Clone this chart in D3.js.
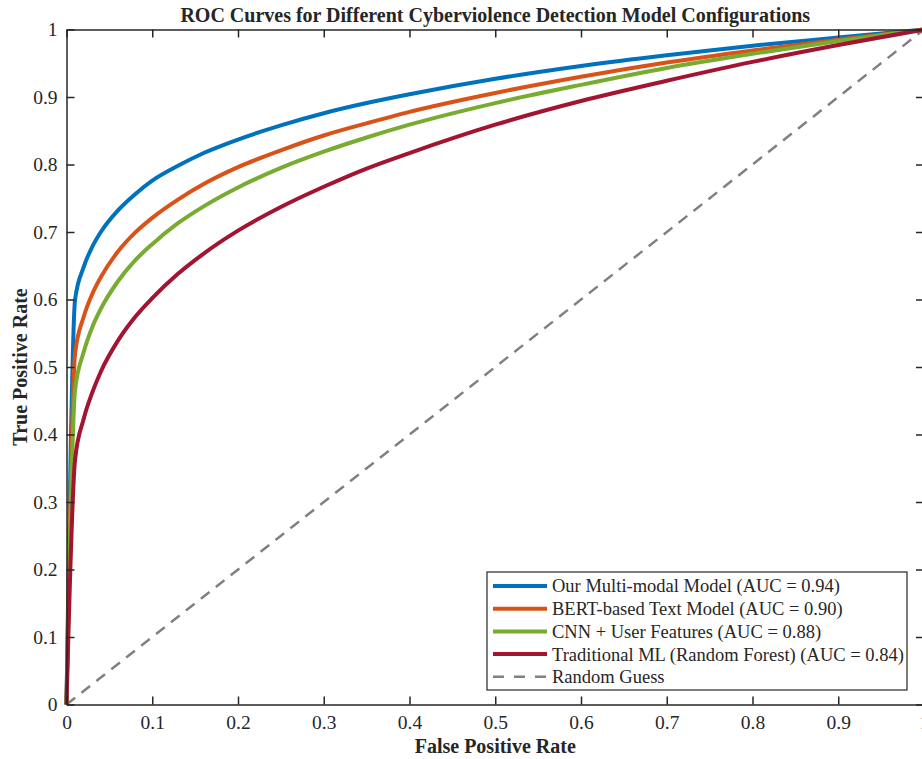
<!DOCTYPE html>
<html lang="en">
<head>
  <meta charset="utf-8">
  <title>ROC Curves</title>
  <script src="https://d3js.org/d3.v7.min.js"></script>
  <style>
    body { margin: 0; background: #fff; }
    text { font-family: "Liberation Serif", "Times New Roman", serif; fill: #262626; }
  </style>
</head>
<body>
<script>
// false positive rate sample points
var fpr = [0, 0.01, 0.02, 0.03, 0.04, 0.06, 0.08, 0.10, 0.13, 0.16, 0.20, 0.25,
           0.30, 0.35, 0.40, 0.50, 0.60, 0.70, 0.80, 0.90, 1.00];

// true positive rate of each model
var tprMultiModal = [0, 0.600, 0.648, 0.678, 0.700, 0.732, 0.756, 0.776, 0.798, 0.817, 0.837, 0.858,
                     0.876, 0.891, 0.904, 0.927, 0.946, 0.962, 0.976, 0.988, 1];
var tprBert       = [0, 0.520, 0.574, 0.608, 0.633, 0.671, 0.699, 0.721, 0.748, 0.771, 0.796, 0.821,
                     0.843, 0.861, 0.878, 0.906, 0.930, 0.951, 0.969, 0.985, 1];
var tprCnn        = [0, 0.466, 0.522, 0.559, 0.586, 0.627, 0.658, 0.682, 0.713, 0.738, 0.766, 0.795,
                     0.819, 0.840, 0.859, 0.891, 0.918, 0.943, 0.964, 0.983, 1];
var tprForest     = [0, 0.363, 0.423, 0.462, 0.493, 0.539, 0.574, 0.602, 0.638, 0.668, 0.702, 0.737,
                     0.767, 0.794, 0.817, 0.859, 0.894, 0.924, 0.952, 0.977, 1];

var modelNames = [
  'Our Multi-modal Model (AUC = 0.94)',
  'BERT-based Text Model (AUC = 0.90)',
  'CNN + User Features (AUC = 0.88)',
  'Traditional ML (Random Forest) (AUC = 0.84)'
];
var modelColors = ['#0072BD', '#D95319', '#77AC30', '#A2142F'];
var tickValues = [0, 0.1, 0.2, 0.3, 0.4, 0.5, 0.6, 0.7, 0.8, 0.9, 1];

var W = 922, H = 759;
// plot box (right edge falls just outside the picture, as in the reference)
var pLeft = 66.5, pRight = 924, pTop = 29.5, pBottom = 704.5;

var svg = d3.select('body').append('svg')
  .attr('width', W)
  .attr('height', H);

var x = d3.scaleLinear().domain([0, 1]).range([pLeft, pRight]);
var y = d3.scaleLinear().domain([0, 1]).range([pBottom, pTop]);

var series = [tprMultiModal, tprBert, tprCnn, tprForest].map(function(t, i) {
  return { name: modelNames[i], color: modelColors[i],
           pts: fpr.map(function(f, j) { return [f, t[j]]; }) };
});

var line = d3.line()
  .x(function(d) { return x(d[0]); })
  .y(function(d) { return y(d[1]); })
  .curve(d3.curveMonotoneX);

var straight = d3.line()
  .x(function(d) { return x(d[0]); })
  .y(function(d) { return y(d[1]); });

// random guess diagonal
svg.append('path')
  .attr('d', straight([[0, 0], [1, 1]]))
  .attr('fill', 'none')
  .attr('stroke', '#808080')
  .attr('stroke-width', 2.5)
  .attr('stroke-dasharray', '11,8');

svg.selectAll('.roc')
  .data(series)
  .enter().append('path')
  .attr('class', 'roc')
  .attr('d', function(d) { return line(d.pts); })
  .attr('fill', 'none')
  .attr('stroke', function(d) { return d.color; })
  .attr('stroke-width', 4)
  .attr('stroke-linejoin', 'round');

// axes: ticks inside, box on all sides
var tl = 8;
var xBottom = d3.axisBottom(x).tickValues(tickValues).tickSizeInner(-tl).tickSizeOuter(0)
  .tickPadding(11).tickFormat(d3.format('~g'));
var xTop = d3.axisTop(x).tickValues(tickValues).tickSizeInner(-tl).tickSizeOuter(0).tickFormat('');
var yLeft = d3.axisLeft(y).tickValues(tickValues).tickSizeInner(-tl).tickSizeOuter(0)
  .tickPadding(9).tickFormat(d3.format('~g'));
var yRight = d3.axisRight(y).tickValues(tickValues).tickSizeInner(-tl).tickSizeOuter(0).tickFormat('');

function style(g) {
  g.select('.domain').attr('stroke', '#262626').attr('stroke-width', 1.5);
  g.selectAll('.tick line').attr('stroke', '#262626').attr('stroke-width', 1.5);
  g.selectAll('.tick text').style('font-family', '"Liberation Serif", serif')
    .style('font-size', '19.5px').attr('fill', '#262626');
}

svg.append('g').attr('transform', 'translate(0,' + pBottom + ')').call(xBottom).call(style);
svg.append('g').attr('transform', 'translate(0,' + pTop + ')').call(xTop).call(style);
svg.append('g').attr('transform', 'translate(' + pLeft + ',0)').call(yLeft).call(style);
svg.append('g').attr('transform', 'translate(' + pRight + ',0)').call(yRight).call(style);

// title and labels
svg.append('text')
  .attr('x', (pLeft + pRight) / 2)
  .attr('y', 22)
  .attr('text-anchor', 'middle')
  .style('font-size', '20px')
  .style('font-weight', 'bold')
  .text('ROC Curves for Different Cyberviolence Detection Model Configurations');

svg.append('text')
  .attr('x', (pLeft + pRight) / 2)
  .attr('y', 753)
  .attr('text-anchor', 'middle')
  .style('font-size', '20px')
  .style('font-weight', 'bold')
  .text('False Positive Rate');

svg.append('text')
  .attr('transform', 'translate(27,' + (pTop + pBottom) / 2 + ') rotate(-90)')
  .attr('text-anchor', 'middle')
  .style('font-size', '20px')
  .style('font-weight', 'bold')
  .text('True Positive Rate');

// legend
var legX = 487, legY = 572, legW = 420, legH = 118, rowH = 22.7;
var legend = svg.append('g');
legend.append('rect')
  .attr('x', legX).attr('y', legY)
  .attr('width', legW).attr('height', legH)
  .attr('fill', '#fff')
  .attr('stroke', '#262626')
  .attr('stroke-width', 1.2);

var legItems = series.map(function(s) { return { name: s.name, color: s.color, dash: null }; });
legItems.push({ name: 'Random Guess', color: '#808080', dash: '11,10' });

var rows = legend.selectAll('.leg')
  .data(legItems)
  .enter().append('g')
  .attr('transform', function(d, i) { return 'translate(0,' + (legY + 14 + i * rowH) + ')'; });

rows.append('line')
  .attr('x1', legX + 6).attr('x2', legX + 60)
  .attr('stroke', function(d) { return d.color; })
  .attr('stroke-width', function(d) { return d.dash ? 2.5 : 4; })
  .attr('stroke-dasharray', function(d) { return d.dash; });

rows.append('text')
  .attr('x', legX + 65)
  .attr('dy', '0.35em')
  .style('font-size', '18.5px')
  .text(function(d) { return d.name; });
</script>
</body>
</html>
